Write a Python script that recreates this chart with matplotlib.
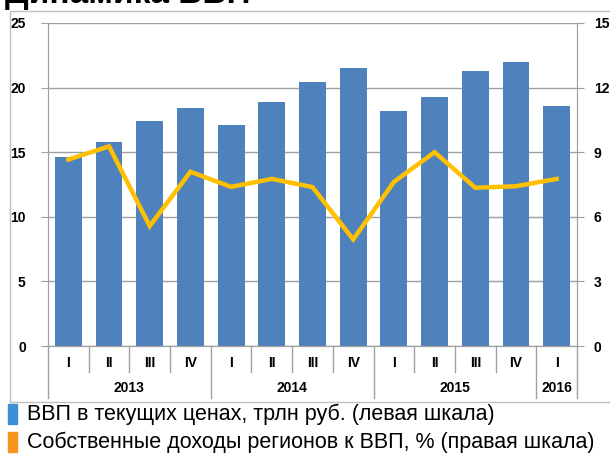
import matplotlib.pyplot as plt
from matplotlib.patches import Rectangle

quarters = ["I", "II", "III", "IV", "I", "II", "III", "IV", "I", "II", "III", "IV", "I"]
years = ["2013", "2014", "2015", "2016"]
year_sizes = [4, 4, 4, 1]
gdp = [14.6, 15.8, 17.4, 18.4, 17.1, 18.9, 20.4, 21.5, 18.2, 19.3, 21.3, 22.0, 18.6]
own_income = [8.66, 9.27, 5.57, 8.09, 7.39, 7.76, 7.38, 4.95, 7.62, 9.0, 7.35, 7.42, 7.76]
left_ticks = [0, 5, 10, 15, 20, 25]
right_ticks = [0, 3, 6, 9, 12, 15]

title = "Динамика ВВП"
legend_labels = ["ВВП в текущих ценах, трлн руб. (левая шкала)",
                 "Собственные доходы регионов к ВВП, % (правая шкала)"]

bar_color = "#4f81bd"
line_color = "#ffc000"
grid_color = "#a0a0a0"
tick_font = "Liberation Sans"
tick_size = 10

fig = plt.figure(figsize=(6.1, 4.59), dpi=100)
ax = fig.add_axes([48 / 610, 1 - 346 / 459, 529 / 610, 323 / 459])
ax2 = ax.twinx()

x = list(range(len(gdp)))
ax.bar(x, gdp, width=0.66, color=bar_color, zorder=2)
ax.set_ylim(0, 25)
ax.set_xlim(-0.5, len(gdp) - 0.5)
ax.grid(axis="y", color=grid_color, lw=1, zorder=0)
ax.set_axisbelow(True)

ax2.plot(x, own_income, color=line_color, lw=3.2, solid_joinstyle="miter", zorder=3)
ax2.set_ylim(0, 15)

for a, ticks, pad in ((ax, left_ticks, 11), (ax2, right_ticks, 7)):
    a.set_yticks(ticks)
    a.set_yticklabels([str(t) for t in ticks], fontweight="bold",
                      family=tick_font, fontsize=tick_size)
    for s in a.spines.values():
        s.set_color(grid_color)
    a.spines["top"].set_visible(False)
    a.tick_params(axis="y", length=5, color=grid_color, pad=pad)

ax.tick_params(axis="x", length=0, labelbottom=False)

# two level category axis
xt = ax.get_xaxis_transform()
row_h = 26 / 323
for i, q in enumerate(quarters):
    ax.text(i, -row_h * 0.65, q, transform=xt, ha="center", va="center",
            fontsize=tick_size, fontweight="bold", family=tick_font)
bounds = [-0.5]
for n in year_sizes:
    bounds.append(bounds[-1] + n)
for i in range(len(quarters) + 1):
    b = i - 0.5
    low = -2 * row_h if b in bounds else -row_h
    ax.plot([b, b], [0, low], transform=xt, color=grid_color, lw=1, clip_on=False)
for y, a, b in zip(years, bounds[:-1], bounds[1:]):
    ax.text((a + b) / 2, -row_h * 1.6, y, transform=xt, ha="center", va="center",
            fontsize=tick_size, fontweight="bold", family=tick_font)

# outer border of the chart
fig.patches.append(Rectangle((10 / 610, 1 - 402 / 459), 620 / 610, 391 / 459,
                             transform=fig.transFigure, fill=False,
                             edgecolor="#c0c0c0", lw=1))

fig.text(5 / 610, 1 + 5 / 459, title, fontsize=24, fontweight="bold",
         family="Liberation Sans", va="center", ha="left")

# legend
for k, (lab, col) in enumerate(zip(legend_labels, ["#3b8fd6", "#f7941d"])):
    yc = 1 - (414 + 28 * k) / 459
    fig.patches.append(Rectangle((8 / 610, yc - 10 / 459), 9 / 610, 20 / 459,
                                 transform=fig.transFigure, color=col))
    fig.text(27 / 610, yc, lab, fontsize=15.5, family="Liberation Sans",
             va="center", ha="left")

fig.savefig("out.png", dpi=100)
